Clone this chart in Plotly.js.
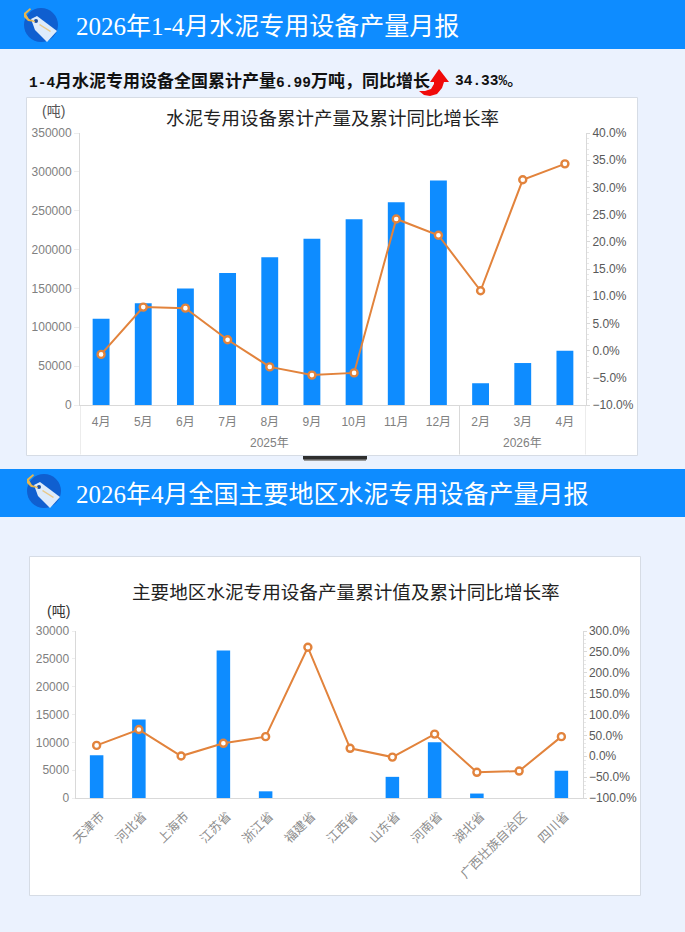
<!DOCTYPE html>
<html><head><meta charset="utf-8">
<script src="https://cdn.plot.ly/plotly-3.0.1.min.js"></script>
<style>html,body{margin:0;padding:0;background:#EBF2FE}#c{width:685px;height:932px}</style>
</head><body><div id="c"></div>
<script>
const yearGroups=['2025年','2026年'];
const months1=['4月','5月','6月','7月','8月','9月','10月','11月','12月','2月','3月','4月'];
const output1=[111000,131000,150000,170000,190000,214000,239000,261000,289000,28000,54000,69900];
const growth1=[-0.7,8.0,7.8,2.0,-3.0,-4.5,-4.1,24.2,21.2,11.0,31.4,34.33];
const regions=['天津市','河北省','上海市','江苏省','浙江省','福建省','江西省','山东省','河南省','湖北省','广西壮族自治区','四川省'];
const output2=[7700,14100,0,26500,1200,0,0,3800,10000,800,0,4900];
const growth2=[26,64,0.5,31,47,261,19,-2,53,-38.5,-35.5,47];
const idx1=months1.map((m,i)=>i);
const W=685,H=932;
const BLUE='#0E8CFF',ORANGE='#E2833C',GR='#808080',AX='#D9D9D9';
const SERIF='"Liberation Serif","Noto Sans CJK SC",serif', SANS='"Liberation Sans","Noto Sans CJK SC",sans-serif', MONO='"Liberation Mono","Noto Sans CJK SC",monospace';
const px=x=>x/W, py=y=>1-y/H;
const rect=(x0,y0,x1,y1,fill,line)=>({type:'rect',xref:'paper',yref:'paper',x0:px(x0),x1:px(x1),y0:py(y0),y1:py(y1),fillcolor:fill,line:line?{color:line,width:1}:{width:0},layer:'below'});
const pathP=(pts,fill)=>({type:'path',xref:'paper',yref:'paper',layer:'above',fillcolor:fill,line:{width:0},
  path:'M'+pts.map(p=>px(p[0])+','+py(p[1])).join(' L')+' Z'});
const circ=(cx,cy,r,fill)=>({type:'circle',xref:'paper',yref:'paper',x0:px(cx-r),x1:px(cx+r),y0:py(cy+r),y1:py(cy-r),fillcolor:fill,line:{width:0},layer:'above'});
const txt=(x,y,t,size,color,family,anchor='left')=>({xref:'paper',yref:'paper',x:px(x),y:py(y),text:t,showarrow:false,xanchor:anchor,yanchor:'middle',font:{size,color,family}});
function icon(cx,cy){return [
  circ(cx,cy,17,'#0F5FD0'),
  pathP([[cx-10,cy-6],[cx-4,cy-9],[cx+16,cy+6],[cx+6,cy+17],[cx-6,cy+5]],'#DDEBFB'),
  pathP([[cx-1,cy-1],[cx+10,cy+6],[cx+9,cy+7],[cx-2,cy]],'#E9C98A'),
  circ(cx-5,cy-4,2,'#1D4E9E'),
  pathP([[cx-17,cy-12],[cx-11,cy-17],[cx-10,cy-15.5],[cx-15,cy-11],[cx-12,cy-6],[cx-6,cy-4],[cx-6,cy-3],[cx-13,cy-4],[cx-17,cy-8]],'#E8B64C')
];}
const divider=(x,xref)=>({type:'line',xref,yref:'paper',x0:x,x1:x,y0:py(405),y1:py(454.5),line:{color:AX,width:1},layer:'below'});
const shapes=[
  rect(0,0,685,49,BLUE), rect(0,469,685,517,BLUE),
  rect(26.5,97.5,637.5,455.5,'#fff','#D6DCE5'), rect(29.5,556.5,640.5,895.5,'#fff','#D6DCE5'),
  rect(304,459,366,461,'#9a9a9a'), rect(303,456,367,459.5,'#2e2e2e'),
  divider(-0.5,'x'),divider(8.5,'x'),divider(11.5,'x'),
  ...icon(41,25), ...icon(44,491),
  pathP([[439,69],[449,82],[444,82],[442,88],[437,94],[430,96],[424,95],[419,91],[425,91],[431,89],[434,84],[434,82],[430,82]],'#F00A0A')
];
const sp=s=>'<span style="font-size:14.5px">'+s+'</span>';
const annotations=[
  txt(74,26,'2026年1-4月水泥专用设备产量月报',25,'#fff',SERIF),
  txt(74,494,'2026年4月全国主要地区水泥专用设备产量月报',25,'#fff',SERIF),
  txt(27,81,'<b>'+sp('1-4')+'月水泥专用设备全国累计产量'+sp('6.99')+'万吨，同比增长</b>',17,'#111',MONO),
  txt(453,81,'<b>'+sp('34.33%')+'。</b>',15,'#111',MONO),
  txt(332,118,'水泥专用设备累计产量及累计同比增长率',18.5,'#222',SANS,'center'),
  txt(53,111,'(吨)',14,'#555',SANS,'center'),
  txt(346.5,592,'主要地区水泥专用设备产量累计值及累计同比增长率',18.6,'#222',SANS,'center'),
  txt(58,610.5,'(吨)',14,'#333',SANS,'center'),
  {xref:'x',yref:'paper',x:4,y:py(442.5),text:yearGroups[0],showarrow:false,xanchor:'center',yanchor:'middle',font:{size:12,color:GR,family:SANS}},
  {xref:'x',yref:'paper',x:10,y:py(442.5),text:yearGroups[1],showarrow:false,xanchor:'center',yanchor:'middle',font:{size:12,color:GR,family:SANS}}
];
const tf={size:12,color:GR,family:SANS}, tfr={size:12,color:'#595959',family:SANS};
const lineStyle={color:ORANGE,width:2};
const marker={symbol:'circle',size:7,color:'#fff',line:{color:ORANGE,width:2.4}};
const data=[
 {type:'bar',x:idx1,y:output1,xaxis:'x',yaxis:'y',marker:{color:BLUE},width:0.4,hoverinfo:'skip'},
 {type:'scatter',mode:'lines+markers',x:idx1,y:growth1,xaxis:'x',yaxis:'y2',line:lineStyle,marker,hoverinfo:'skip'},
 {type:'bar',x:regions,y:output2,xaxis:'x2',yaxis:'y3',marker:{color:BLUE},width:0.32,hoverinfo:'skip'},
 {type:'scatter',mode:'lines+markers',x:regions,y:growth2,xaxis:'x2',yaxis:'y4',line:lineStyle,marker,hoverinfo:'skip'}
];
const layout={
 width:W,height:H,margin:{l:0,r:0,t:0,b:0},paper_bgcolor:'#EBF2FE',plot_bgcolor:'rgba(0,0,0,0)',showlegend:false,
 font:{family:SANS},shapes,annotations,
 xaxis:{domain:[px(80),px(586)],anchor:'y',type:'linear',range:[-0.5,11.5],tickmode:'array',tickvals:idx1,ticktext:months1,tickfont:tf,showline:true,linecolor:AX,showgrid:false,zeroline:false,ticks:'outside',tickcolor:'rgba(0,0,0,0)',ticklen:6},
 yaxis:{domain:[py(405),py(133)],anchor:'x',range:[0,350000],dtick:50000,tickformat:'d',tickfont:tf,showline:true,linecolor:AX,showgrid:false,zeroline:false,ticks:'outside',ticklen:5,tickcolor:'#EDEDED'},
 yaxis2:{domain:[py(405),py(133)],anchor:'x',overlaying:'y',side:'right',range:[-10,40],dtick:5,ticksuffix:'%',tickformat:'.1f',tickfont:tfr,showline:true,linecolor:AX,showgrid:false,zeroline:false,ticks:'outside',ticklen:3,tickcolor:AX,minor:{dtick:1,ticks:'outside',ticklen:2,tickcolor:'#E8E8E8'}},
 xaxis2:{domain:[px(75.5),px(582.5)],anchor:'y3',type:'category',range:[-0.5,11.5],tickfont:{size:12.5,color:'#8c8c8c',family:SANS},tickangle:-45,showline:true,linecolor:AX,showgrid:false,ticks:'outside',tickcolor:'rgba(0,0,0,0)',ticklen:5,ticklabelshift:4},
 yaxis3:{domain:[py(798),py(631)],anchor:'x2',range:[0,30000],dtick:5000,tickformat:'d',tickfont:tf,showline:true,linecolor:AX,showgrid:false,zeroline:false,ticks:'outside',ticklen:3,tickcolor:'#EDEDED'},
 yaxis4:{domain:[py(798),py(631)],anchor:'x2',overlaying:'y3',side:'right',range:[-100,300],dtick:50,ticksuffix:'%',tickformat:'.1f',tickfont:tfr,showline:true,linecolor:AX,showgrid:false,zeroline:false,ticks:'outside',ticklen:3,tickcolor:AX,minor:{dtick:10,ticks:'outside',ticklen:2,tickcolor:'#E8E8E8'}}
};
Plotly.newPlot('c',data,layout,{displayModeBar:false,staticPlot:true});
</script></body></html>
